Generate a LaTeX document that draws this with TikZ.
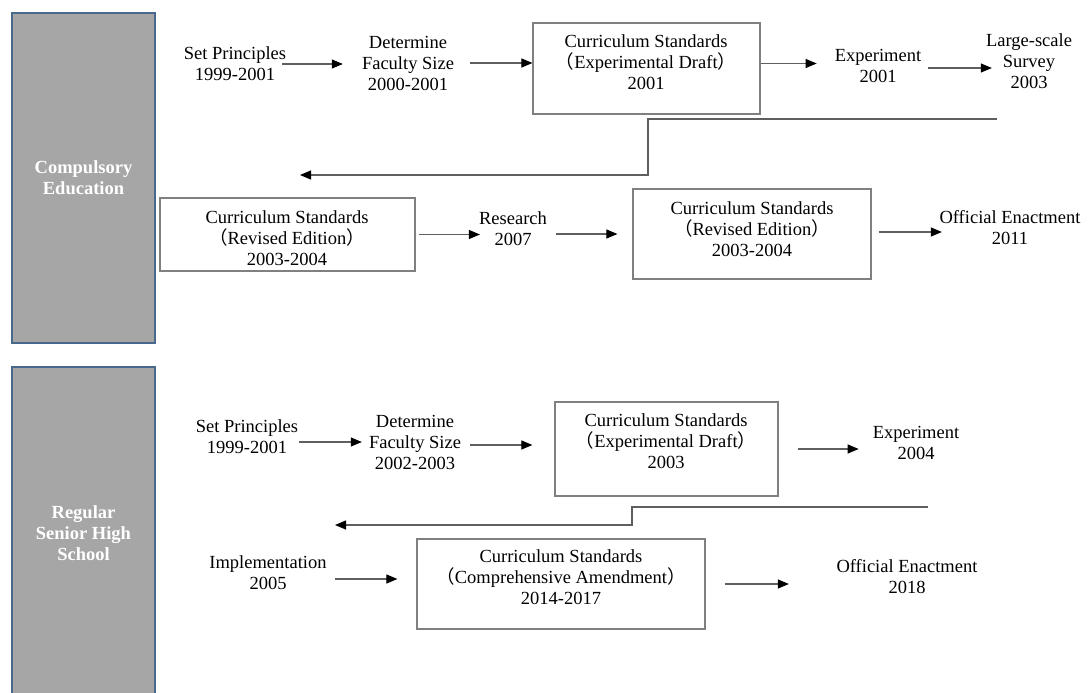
\documentclass[tikz,border=0pt]{standalone}
\usepackage{fontspec}
\setmainfont{Liberation Serif}
\newfontfamily\cjkfont{Noto Sans CJK SC}
\usetikzlibrary{arrows.meta,calc}

\definecolor{sidegray}{RGB}{166,166,166}
\definecolor{sideedge}{RGB}{72,104,140}
\definecolor{boxedge}{RGB}{128,128,128}
\definecolor{linegray}{RGB}{95,95,95}
\newcommand{\lpar}{{\cjkfont （}}
\newcommand{\rpar}{{\cjkfont ）}}

\begin{document}
\begin{tikzpicture}[
    x=1pt, y=-1pt,
    side box/.style={draw=sideedge, fill=sidegray, line width=1.2pt, text=white, align=center,
        inner sep=0pt, minimum width=143pt, font=\bfseries\fontsize{18.5}{21}\selectfont},
    stage text/.style={align=center, inner sep=0pt, font=\fontsize{18.5}{21}\selectfont},
    standard box/.style={draw=boxedge, line width=1.2pt, inner sep=0pt},
    flow arrow/.style={-{Triangle[length=11pt,width=9pt,black]}, line width=1.1pt, linegray},
    return line/.style={flow arrow}
]

\useasboundingbox (0,0) rectangle (1088,693);

% Side Labels
\node[side box, minimum height=330pt] (comp) at (83.5,178) {Compulsory\\Education};
\node[side box, minimum height=333pt] (senior) at (83.5,533.5) {Regular\\Senior High\\School};

% Compulsory Education, first row
\node[stage text] (sp1) at (235,64) {Set Principles\\1999-2001};
\node[stage text] (df1) at (408,63) {Determine\\Faculty Size\\2000-2001};
\node[standard box, minimum width=227pt, minimum height=91pt] (cs1) at (646.5,68.5) {};
\node[stage text] (cs1t) at (646,62) {Curriculum Standards\\\lpar Experimental Draft\rpar\\2001};
\node[stage text] (ex1) at (878,66) {Experiment\\2001};
\node[stage text] (ls1) at (1029,61) {Large-scale\\Survey\\2003};

\draw[flow arrow, shorten <=-4pt, shorten >=19pt] (sp1.east) -- (sp1.east -| df1.west);
\draw[flow arrow, shorten <=16pt] (df1.east) -- (df1.east -| cs1.west);
\draw[flow arrow, shorten >=18pt] ([yshift=5pt]cs1.east) -- ([yshift=5pt]cs1.east -| ex1.west);
\draw[flow arrow, shorten <=7pt, shorten >=-6pt] ([yshift=-2pt]ex1.east) -- ([yshift=-2pt]ex1.east -| ls1.west);

% Return to second row
\coordinate (r1s) at (997,119);
\coordinate (r1e) at (300,175);
\draw[return line] (r1s) -- ++(-349,0) |- (r1e);

% Compulsory Education, second row
\node[standard box, minimum width=255pt, minimum height=73pt] (cs2) at (287.5,234.5) {};
\node[stage text] (cs2t) at (287,238) {Curriculum Standards\\\lpar Revised Edition\rpar\\2003-2004};
\node[stage text] (rs1) at (513,229) {Research\\2007};
\node[standard box, minimum width=238pt, minimum height=90pt] (cs3) at (752,234) {};
\node[stage text] (cs3t) at (752,229) {Curriculum Standards\\\lpar Revised Edition\rpar\\2003-2004};
\node[stage text] (oe1) at (1010,228) {Official Enactment\\2011};

\draw[flow arrow, shorten <=3pt, shorten >=-1pt] (cs2.east) -- (cs2.east -| rs1.west);
\draw[flow arrow, shorten <=9pt, shorten >=15pt] (cs3.west -| rs1.east) -- (cs3.west);
\draw[flow arrow, shorten <=7pt, shorten >=-2.5pt] ([yshift=2pt]cs3.east) -- ([yshift=2pt]cs3.east -| oe1.west);

% Regular Senior High School, first row
\node[stage text] (sp2) at (247,437) {Set Principles\\1999-2001};
\node[stage text] (df2) at (415,442) {Determine\\Faculty Size\\2002-2003};
\node[standard box, minimum width=223pt, minimum height=94pt] (cs4) at (666.5,449) {};
\node[stage text] (cs4t) at (666,441) {Curriculum Standards\\\lpar Experimental Draft\rpar\\2003};
\node[stage text] (ex2) at (916,443) {Experiment\\2004};

\draw[flow arrow, shorten <=1pt, shorten >=7pt] (df2.west -| sp2.east) -- (df2.west);
\draw[flow arrow, shorten <=9pt, shorten >=22pt] ([yshift=-3pt]df2.east) -- ([yshift=-3pt]df2.east -| cs4.west);
\draw[flow arrow, shorten <=19pt, shorten >=14pt] (cs4.east) -- (cs4.east -| ex2.west);

% Return to second row
\coordinate (r2s) at (928,507);
\coordinate (r2e) at (335,525);
\draw[return line] (r2s) -- ++(-296,0) |- (r2e);

% Regular Senior High School, second row
\node[stage text] (im2) at (268,573) {Implementation\\2005};
\node[standard box, minimum width=288pt, minimum height=90pt] (cs5) at (561,584) {};
\node[stage text] (cs5t) at (561,577) {Curriculum Standards\\\lpar Comprehensive Amendment\rpar\\2014-2017};
\node[stage text] (oe2) at (907,577) {Official Enactment\\2018};

\draw[flow arrow, shorten <=8.5pt, shorten >=19pt] ([yshift=5pt]cs5.west -| im2.east) -- ([yshift=5pt]cs5.west);
\draw[flow arrow, shorten <=19pt, shorten >=47.5pt] (cs5.east) -- (cs5.east -| oe2.west);

\end{tikzpicture}
\end{document}
